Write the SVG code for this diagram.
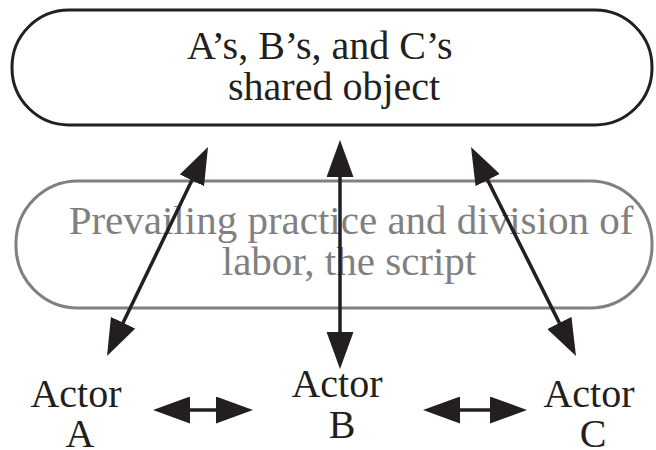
<svg xmlns="http://www.w3.org/2000/svg" width="656" height="450" viewBox="0 0 656 450">
  <style>
    .t { font-family: 'Liberation Serif', 'Times New Roman', Times, Tinos, 'Noto Serif', 'DejaVu Serif', 'Nimbus Roman', FreeSerif, serif; font-size: 40px; fill: #231f20; }
    .g { font-family: 'Liberation Serif', 'Times New Roman', Times, Tinos, 'Noto Serif', 'DejaVu Serif', 'Nimbus Roman', FreeSerif, serif; font-size: 41px; fill: #808080; }
    .conn { stroke: #231f20; stroke-width: 3.5; fill: none; }
  </style>
  <defs>
    <marker id="head" markerUnits="userSpaceOnUse" viewBox="0 0 37 27" refX="29" refY="13.5" markerWidth="37" markerHeight="27" orient="auto-start-reverse">
      <path d="M0,0 L37,13.5 L0,27 z" fill="#231f20"/>
    </marker>
  </defs>
  <rect width="656" height="450" fill="#ffffff"/>
  <g id="shared-object">
    <rect x="12" y="10" width="640" height="115" rx="57" ry="57" fill="none" stroke="#231f20" stroke-width="3"/>
    <text class="t" x="187" y="59">A’s, B’s, and C’s</text>
    <text class="t" x="228" y="100">shared object</text>
  </g>
  <g id="prevailing-practice">
    <rect x="16" y="181" width="636" height="127" rx="62" ry="62" fill="none" stroke="#808080" stroke-width="3"/>
    <text class="g" x="351" y="234" text-anchor="middle">Prevailing practice and division of</text>
    <text class="g" x="349" y="275" text-anchor="middle">labor, the script</text>
  </g>
  <g id="actor-a">
    <text class="t" x="76" y="407" text-anchor="middle">Actor</text>
    <text class="t" x="80" y="447" text-anchor="middle">A</text>
  </g>
  <g id="actor-b">
    <text class="t" x="337" y="397" text-anchor="middle">Actor</text>
    <text class="t" x="342" y="438" text-anchor="middle">B</text>
  </g>
  <g id="actor-c">
    <text class="t" x="589" y="407" text-anchor="middle">Actor</text>
    <text class="t" x="593" y="447" text-anchor="middle">C</text>
  </g>
  <g id="connectors">
    <line class="conn" x1="110.5" y1="348.8" x2="204.5" y2="154.2" marker-start="url(#head)" marker-end="url(#head)"/>
    <line class="conn" x1="340" y1="361" x2="340" y2="148" marker-start="url(#head)" marker-end="url(#head)"/>
    <line class="conn" x1="572.4" y1="348.85" x2="474.6" y2="154.15" marker-start="url(#head)" marker-end="url(#head)"/>
    <line class="conn" x1="161" y1="410" x2="245" y2="410" marker-start="url(#head)" marker-end="url(#head)"/>
    <line class="conn" x1="431" y1="410" x2="519" y2="410" marker-start="url(#head)" marker-end="url(#head)"/>
  </g>
</svg>
